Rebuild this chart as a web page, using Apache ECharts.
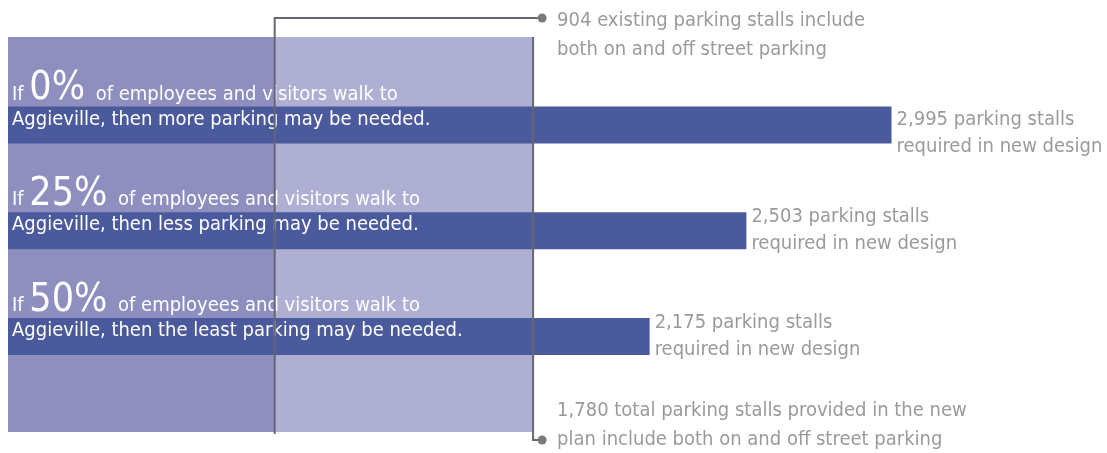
<!DOCTYPE html>
<html>
<head>
<meta charset="utf-8">
<script src="https://cdn.jsdelivr.net/npm/echarts@6/dist/echarts.min.js"></script>
<style>
  html, body { margin: 0; padding: 0; background: #ffffff; }
  #chart { width: 1107px; height: 453px; }
</style>
</head>
<body>
<div id="chart"></div>
<script>
// Walking share scenarios and the parking each one requires
const walkShares = [0, 25, 50];
const outcomes = ['more parking may be needed.', 'less parking may be needed.', 'the least parking may be needed.'];
const requiredStalls = [2995, 2503, 2175];

// Supply: today's stalls and the stalls provided by the new plan
const existingStalls = 904;
const plannedStalls = 1780;

const FONT = "'DejaVu Sans Condensed', 'Liberation Sans Narrow', sans-serif";
const GREY_TEXT = '#999a9e';
const fmt = v => v.toLocaleString('en-US');

const noteTexts = [
  `${fmt(existingStalls)} existing parking stalls include\nboth on and off street parking`,
  `${fmt(plannedStalls)} total parking stalls provided in the new\nplan include both on and off street parking`
];

const X_MAX = 3600;
const GRID_LEFT = 8;
const GRID_RIGHT = 37;

// Leader lines with a dot and a note, hung off the supply rectangles
function renderNote(params, api) {
  const cs = params.coordSys;
  const xFrom = api.coord([api.value(0), 0])[0];
  const xAnchor = api.coord([api.value(1), 0])[0];
  const dotX = xAnchor + 9;
  const isTop = params.dataIndex === 0;
  let dotY, points, textY;
  if (isTop) {
    dotY = cs.y - 19;
    points = [[xFrom, cs.y + cs.height + 2], [xFrom, dotY], [dotX, dotY]];
    textY = dotY + 3 - 14.5;
  } else {
    dotY = cs.y + cs.height + 8;
    points = [[xFrom, cs.y], [xFrom, dotY], [dotX, dotY]];
    textY = dotY - 14.5 - 29;
  }
  return {
    type: 'group',
    children: [
      { type: 'polyline', shape: { points }, style: { stroke: '#666670', lineWidth: 2, fill: null } },
      { type: 'circle', shape: { cx: dotX, cy: dotY, r: 4.5 }, style: { fill: '#7a7a7a' } },
      {
        type: 'text',
        style: {
          text: noteTexts[params.dataIndex],
          x: dotX + 15, y: textY,
          font: `20px ${FONT}`,
          fill: GREY_TEXT,
          lineHeight: 29,
          align: 'left', verticalAlign: 'top'
        }
      }
    ]
  };
}

const chart = echarts.init(document.getElementById('chart'));
chart.setOption({
  animation: false,
  grid: [
    { left: GRID_LEFT, right: GRID_RIGHT, top: 37, bottom: 21 },
    { left: GRID_LEFT, right: GRID_RIGHT, top: 72, bottom: 63.5 }
  ],
  xAxis: [
    { gridIndex: 0, type: 'value', min: 0, max: X_MAX, show: false },
    { gridIndex: 1, type: 'value', min: 0, max: X_MAX, show: false }
  ],
  yAxis: [
    { gridIndex: 0, type: 'category', data: ['stalls'], show: false },
    { gridIndex: 1, type: 'category', data: walkShares.map(s => s + '%'), inverse: true, show: false }
  ],
  series: [
    {
      type: 'bar', xAxisIndex: 0, yAxisIndex: 0,
      data: [plannedStalls], barWidth: '100%', barGap: '-100%',
      itemStyle: { color: '#afafd3' }, z: 1, silent: true
    },
    {
      type: 'bar', xAxisIndex: 0, yAxisIndex: 0,
      data: [existingStalls], barWidth: '100%', barGap: '-100%',
      itemStyle: { color: '#8f8fbf' }, z: 1, silent: true
    },
    {
      type: 'custom', xAxisIndex: 0, yAxisIndex: 0,
      data: [[existingStalls, plannedStalls, 0], [plannedStalls, plannedStalls, 0]],
      encode: { x: [0, 1], y: 2 },
      renderItem: renderNote, z: 3, silent: true
    },
    {
      type: 'bar', xAxisIndex: 1, yAxisIndex: 1,
      data: requiredStalls, barWidth: 37, barGap: '-100%',
      itemStyle: { color: '#4b5a9c' }, z: 2,
      label: {
        show: true,
        position: [4, -42],
        align: 'left', verticalAlign: 'top',
        formatter: p => `{s|If }{b|${walkShares[p.dataIndex]}%}{s| of employees and visitors walk to}\n{m|Aggieville, then ${outcomes[p.dataIndex]}}`,
        rich: {
          s: { fontFamily: FONT, fontSize: 20, color: '#ffffff', lineHeight: 24, verticalAlign: 'bottom', padding: [0, 0, 4, 0] },
          b: { fontFamily: FONT, fontSize: 39, color: '#ffffff', lineHeight: 44, verticalAlign: 'bottom', padding: [0, 5, 0, 0] },
          m: { fontFamily: FONT, fontSize: 20, color: '#ffffff', lineHeight: 22 }
        }
      }
    },
    {
      type: 'bar', xAxisIndex: 1, yAxisIndex: 1,
      data: requiredStalls.map((v, i) => (i === 0 ? { value: v, label: { offset: [0, 8] } } : v)),
      barWidth: 37, barGap: '-100%',
      itemStyle: { color: 'rgba(0,0,0,0)' }, z: 2, silent: true,
      label: {
        show: true,
        position: 'right', distance: 5,
        fontFamily: FONT, fontSize: 20, color: GREY_TEXT, lineHeight: 27,
        formatter: p => `${fmt(p.value)} parking stalls\nrequired in new design`
      }
    }
  ]
});
</script>
</body>
</html>
